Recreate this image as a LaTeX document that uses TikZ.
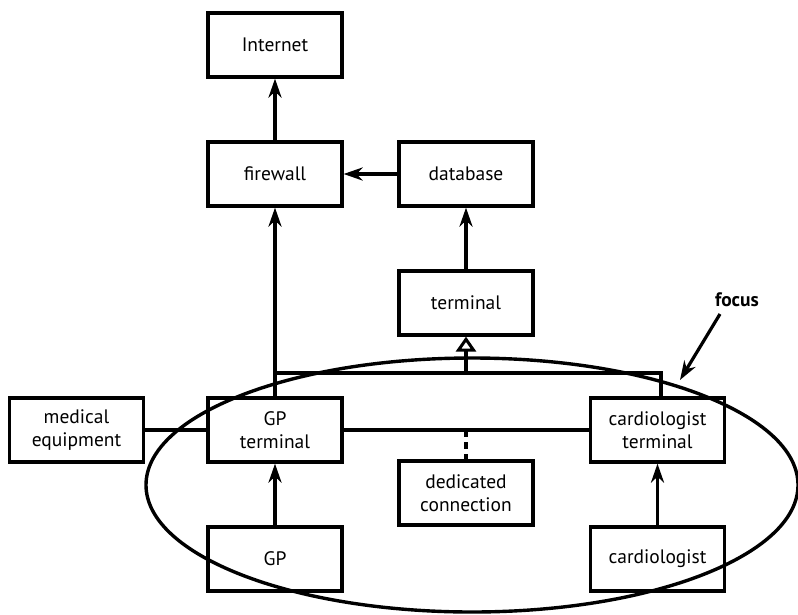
\documentclass[tikz,border=0pt]{standalone}
\usepackage{fontspec}
\setmainfont{PT Sans}
\usetikzlibrary{arrows.meta}
\begin{document}
\begin{tikzpicture}[x=1pt,y=1pt,
  box/.style={draw, line width=3.2pt, minimum width=134pt, minimum height=64pt, align=center, inner sep=2pt, font=\fontsize{19.5}{23}\selectfont},
  conn/.style={line width=3.2pt},
  arr/.style={conn, -{Stealth[length=19pt,width=13pt,inset=6pt]}},
  gen/.style={conn, -{Triangle[open,length=15pt,width=20pt,line width=3pt]}}
]
\useasboundingbox (0,0) rectangle (798,-614);
\node[box] (internet) at (275,-45) {Internet};
\node[box] (firewall) at (275,-174) {firewall};
\node[box] (database) at (466,-174) {database};
\node[box] (terminal) at (466,-303) {terminal};
\node[box] (medical) at (76.5,-430) {medical\\equipment};
\node[box] (gpt) at (275,-430) {GP\\terminal};
\node[box] (cardt) at (657.5,-430) {cardiologist\\terminal};
\node[box] (dedicated) at (466,-493) {dedicated\\connection};
\node[box] (gp) at (275,-559) {GP};
\node[box] (card) at (657.5,-559) {cardiologist};

\draw[arr] (firewall) -- (internet);
\draw[arr] (database) -- (firewall);
\draw[arr] (terminal) -- (database);
\draw[arr] (gpt) -- (firewall);
\coordinate (j) at (466,-373);
\coordinate (jr) at (661,-373);
\draw[conn] (gpt.north |- j) -- (jr) -- (jr |- cardt.north);
\draw[gen] (j) -- (terminal);
\draw[conn] (medical) -- (gpt);
\draw[conn] (gpt) -- (cardt);
\coordinate (d) at (dedicated.north |- gpt);
\draw[conn, dash pattern=on 7pt off 5pt] (d) -- (dedicated.north);
\draw[arr] (gp) -- (gpt);
\draw[arr] (card) -- (cardt);

\draw[line width=3.4pt] (472,-485) ellipse [x radius=326, y radius=127];

\node[font=\fontsize{19.5}{23}\selectfont\bfseries] (focus) at (737,-300) {focus};
\coordinate (ft) at (680,-380);
\draw[arr] (720,-314) -- (ft);
\end{tikzpicture}
\end{document}
